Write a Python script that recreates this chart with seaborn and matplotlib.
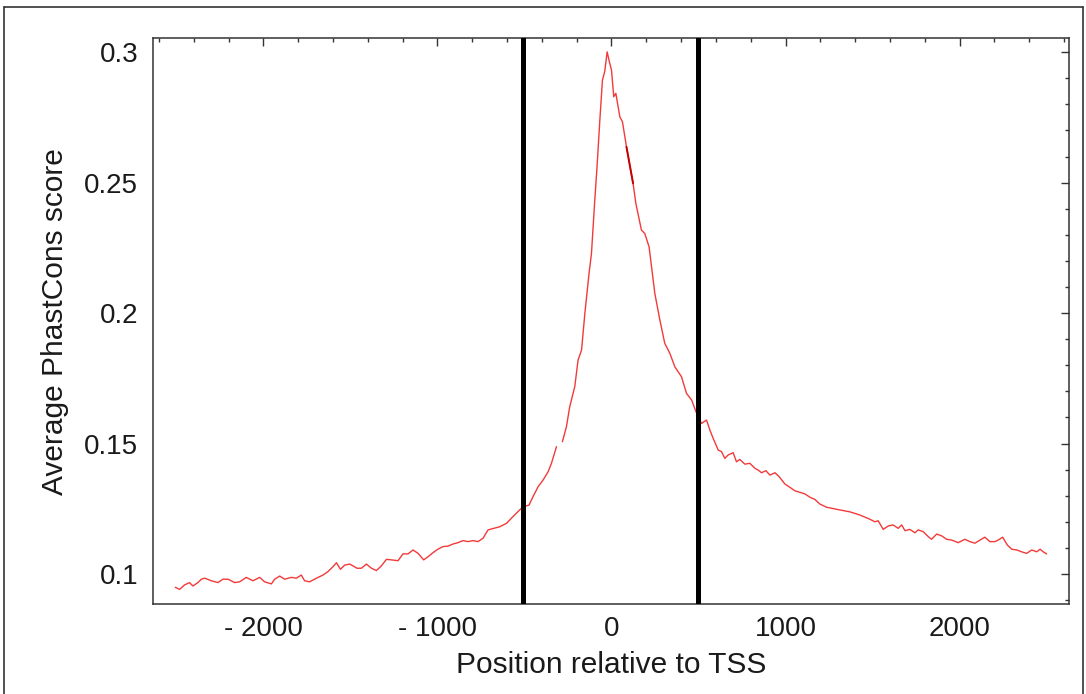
import numpy as np
import pandas as pd
import matplotlib
matplotlib.use("Agg")
import matplotlib.pyplot as plt
from matplotlib.ticker import MultipleLocator
from matplotlib.lines import Line2D
import seaborn as sns

# ---- data ----
pos_left = [-2506, -2481, -2453, -2424, -2405, -2376, -2356, -2337, -2299, -2261,
            -2232, -2203, -2165, -2136, -2098, -2060, -2021, -1993, -1954, -1935,
            -1906, -1878, -1839, -1810, -1782, -1763, -1734, -1695, -1657, -1629,
            -1600, -1580, -1557, -1533, -1504, -1485, -1462, -1437, -1408, -1379,
            -1351, -1322, -1293, -1264, -1226, -1198, -1169, -1140, -1111, -1079,
            -1054, -1025, -997, -968, -939, -910, -882, -853, -824, -795,
            -767, -738, -709, -642, -603, -566, -537, -508, -474, -451,
            -422, -393, -364, -345, -316]
score_left = [0.0949, 0.0941, 0.0958, 0.0967, 0.0954, 0.0967, 0.0980, 0.0984, 0.0974, 0.0967,
              0.0980, 0.0980, 0.0967, 0.0970, 0.0987, 0.0974, 0.0987, 0.0970, 0.0962, 0.0980,
              0.0992, 0.0980, 0.0987, 0.0984, 0.0996, 0.0974, 0.0970, 0.0984, 0.0996, 0.1009,
              0.1028, 0.1043, 0.1018, 0.1034, 0.1038, 0.1031, 0.1022, 0.1022, 0.1038, 0.1022,
              0.1013, 0.1031, 0.1056, 0.1054, 0.1051, 0.1077, 0.1077, 0.1092, 0.1079, 0.1054,
              0.1066, 0.1082, 0.1095, 0.1105, 0.1107, 0.1115, 0.1120, 0.1128, 0.1124, 0.1128,
              0.1124, 0.1137, 0.1169, 0.1181, 0.1194, 0.1220, 0.1239, 0.1258, 0.1264, 0.1296,
              0.1334, 0.1360, 0.1392, 0.1424, 0.1488]

pos_right = [-282, -259, -240, -211, -192, -172, -153, -129, -115, -96,
             -83, -67, -52, -39, -25, -10, 0, 13, 25, 48,
             63, 86, 124, 140, 172, 191, 216, 249, 278, 306,
             335, 364, 402, 431, 460, 489, 517, 546, 565, 584,
             613, 632, 651, 670, 699, 718, 737, 766, 795, 824,
             843, 862, 887, 910, 939, 963, 996, 1025, 1053, 1092,
             1111, 1140, 1168, 1197, 1235, 1293, 1370, 1427, 1484, 1513,
             1532, 1561, 1590, 1618, 1647, 1667, 1686, 1714, 1743, 1762,
             1791, 1820, 1839, 1868, 1897, 1925, 1954, 1992, 2030, 2059,
             2088, 2117, 2145, 2174, 2203, 2222, 2247, 2274, 2299, 2328,
             2356, 2385, 2414, 2443, 2462, 2480, 2500]
score_right = [0.1507, 0.1564, 0.1641, 0.1718, 0.1820, 0.1858, 0.1999, 0.2152, 0.2229, 0.2433,
               0.2561, 0.2739, 0.2893, 0.2925, 0.3001, 0.2957, 0.2931, 0.2829, 0.2842, 0.2752,
               0.2733, 0.2637, 0.2497, 0.2420, 0.2318, 0.2305, 0.2254, 0.2075, 0.1973, 0.1884,
               0.1846, 0.1794, 0.1756, 0.1692, 0.1667, 0.1616, 0.1577, 0.1590, 0.1552, 0.1520,
               0.1475, 0.1469, 0.1443, 0.1456, 0.1465, 0.1430, 0.1439, 0.1421, 0.1424, 0.1405,
               0.1398, 0.1388, 0.1396, 0.1379, 0.1388, 0.1373, 0.1345, 0.1332, 0.1319, 0.1311,
               0.1307, 0.1294, 0.1286, 0.1268, 0.1256, 0.1248, 0.1238, 0.1226, 0.1210, 0.1200,
               0.1204, 0.1171, 0.1184, 0.1188, 0.1175, 0.1188, 0.1166, 0.1171, 0.1158, 0.1169,
               0.1162, 0.1143, 0.1133, 0.1153, 0.1146, 0.1133, 0.1130, 0.1120, 0.1133, 0.1124,
               0.1118, 0.1130, 0.1141, 0.1124, 0.1124, 0.1130, 0.1141, 0.1111, 0.1095, 0.1092,
               0.1085, 0.1079, 0.1092, 0.1085, 0.1095, 0.1085, 0.1077]

# short darker stretch on the falling flank
pos_dark = [86, 124]
score_dark = [0.2637, 0.2497]

# region boundaries (vertical black lines)
boundaries = [-510, 497]

xticks = [-2000, -1000, 0, 1000, 2000]
xtick_labels = ["- 2000", "- 1000", "0", "1000", "2000"]
yticks = [0.1, 0.15, 0.2, 0.25, 0.3]
ytick_labels = ["0.1", "0.15", "0.2", "0.25", "0.3"]

# ---- build table ----
df = pd.concat([
    pd.DataFrame({"pos": pos_left, "score": score_left, "part": 0}),
    pd.DataFrame({"pos": pos_right, "score": score_right, "part": 1}),
], ignore_index=True)
df_dark = pd.DataFrame({"pos": pos_dark, "score": score_dark})

sns.set_style("white")
plt.rcParams["font.family"] = ["Liberation Sans", "DejaVu Sans"]

fig = plt.figure(figsize=(10.86, 6.94), dpi=100)
ax = fig.add_axes([0.1412, 0.1297, 0.8431, 0.8151])

sns.lineplot(data=df, x="pos", y="score", units="part", estimator=None,
             color="#f23a3a", linewidth=1.0, ax=ax, sort=False)
sns.lineplot(data=df_dark, x="pos", y="score", color="#c80000",
             linewidth=1.4, ax=ax, sort=False)

for b in boundaries:
    ax.axvline(b, color="black", linewidth=3.6, zorder=5)

ax.set_xlim(-2632, 2628)
ax.set_ylim(0.0885, 0.3053)
ax.set_xticks(xticks, labels=xtick_labels)
ax.set_yticks(yticks, labels=ytick_labels)
ax.xaxis.set_minor_locator(MultipleLocator(200))
ax.yaxis.set_minor_locator(MultipleLocator(0.01))

ax.tick_params(which="both", direction="in", top=True, right=True,
               colors="#333333", labelcolor="#1a1a1a", width=1.0)
ax.tick_params(which="major", length=5.5, labelsize=20)
ax.tick_params(axis="x", which="major", pad=9)
ax.tick_params(axis="y", which="major", pad=11)
ax.tick_params(which="minor", length=3.2)

for s in ax.spines.values():
    s.set_visible(True)
    s.set_color("#333333")
    s.set_linewidth(1.1)

ax.set_xlabel("Position relative to TSS", fontsize=21.5, color="#1a1a1a", labelpad=6)
ax.set_ylabel("Average PhastCons score", fontsize=21.5, color="#1a1a1a", labelpad=11)

# outer frame of the figure (left, top, right)
W, H = 1086, 694
fx = lambda px: px / W
fy = lambda py: 1 - py / H
for xs, ys in [([fx(4), fx(4)], [fy(7), 0]),
               ([fx(4), fx(1083)], [fy(7), fy(7)]),
               ([fx(1083), fx(1083)], [fy(7), 0])]:
    fig.add_artist(Line2D(xs, ys, transform=fig.transFigure,
                          color="#333333", linewidth=1.2))

fig.savefig("out.png", dpi=100)
